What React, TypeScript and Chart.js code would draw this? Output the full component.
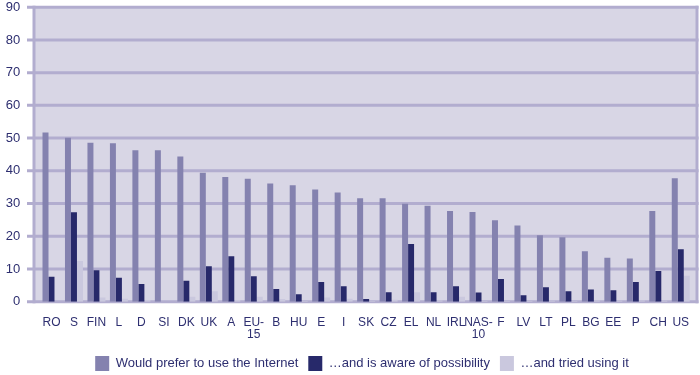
import React, { useEffect, useRef } from "react";
import { Chart, registerables } from "chart.js";

Chart.register(...registerables);

const categories: (string | string[])[] = [
  "RO", "S", "FIN", "L", "D", "SI", "DK", "UK", "A", ["EU-", "15"], "B", "HU", "E", "I",
  "SK", "CZ", "EL", "NL", "IRL", ["NAS-", "10"], "F", "LV", "LT", "PL", "BG", "EE", "P", "CH", "US",
];

const preferInternet = [
  51.7, 50.1, 48.6, 48.4, 46.3, 46.3, 44.4, 39.4, 38.1, 37.6, 36.1, 35.6, 34.3, 33.4,
  31.6, 31.6, 29.9, 29.3, 27.7, 27.4, 24.9, 23.3, 20.3, 19.7, 15.4, 13.4, 13.2, 27.7, 37.7,
];

const awareOfPossibility = [
  7.6, 27.3, 9.6, 7.3, 5.4, 0, 6.4, 10.8, 13.9, 7.8, 3.9, 2.3, 6.0, 4.7,
  0.8, 2.9, 17.6, 2.9, 4.7, 2.8, 6.9, 2.0, 4.4, 3.2, 3.7, 3.5, 6.0, 9.4, 16.0,
];

const triedUsing = [
  0, 12.4, 1.3, 0.9, 0.5, 0, 1.5, 3.2, 0.5, 1.5, 0.8, 0.2, 1.3, 0.9,
  0.2, 0.6, 2.9, 0.4, 1.5, 0.2, 0.2, 0.2, 0.3, 0.2, 0.4, 0.3, 0.4, 0.3, 7.9,
];

const seriesLabels = [
  "Would prefer to use the Internet",
  "\u2026and is aware of possibility",
  "\u2026and tried using it",
];

const yTicks = [0, 10, 20, 30, 40, 50, 60, 70, 80, 90];

const TEXT = "#2e2f70";
const FONT = "'Liberation Sans', Arial, sans-serif";

const framePlugin = {
  id: "frame",
  afterLayout(chart: any) {
    if (chart.legend) {
      chart.legend.left += 32;
    }
  },
  beforeDatasetsDraw(chart: any) {
    const { ctx, chartArea, scales } = chart;
    const y = scales.y;
    const left = chartArea.left - 6.25;
    const right = chartArea.right + 5;
    const top = y.getPixelForValue(90);
    const bottom = y.getPixelForValue(0);
    ctx.save();
    ctx.fillStyle = "#d8d6e5";
    ctx.fillRect(left, top, right - left, bottom - top);
    ctx.strokeStyle = "#b2adcf";
    ctx.lineWidth = 3;
    for (const v of yTicks) {
      const py = y.getPixelForValue(v);
      ctx.beginPath();
      ctx.moveTo(left - 7, py);
      ctx.lineTo(right + 1.5, py);
      ctx.stroke();
    }
    ctx.beginPath();
    ctx.moveTo(left, top - 1.5);
    ctx.lineTo(left, bottom + 1.5);
    ctx.stroke();
    ctx.beginPath();
    ctx.moveTo(right, top - 1.5);
    ctx.lineTo(right, bottom + 1.5);
    ctx.stroke();
    ctx.restore();
  },
};

export default function App() {
  const canvasRef = useRef<HTMLCanvasElement | null>(null);

  useEffect(() => {
    document.body.style.margin = "0";
    const canvas = canvasRef.current;
    if (!canvas) return;
    const chart = new Chart(canvas, {
      type: "bar",
      data: {
        labels: categories as any,
        datasets: [
          { label: seriesLabels[0], data: preferInternet, backgroundColor: "#8482af", borderWidth: 0 },
          { label: seriesLabels[1], data: awareOfPossibility, backgroundColor: "#27296a", borderWidth: 0 },
          { label: seriesLabels[2], data: triedUsing, backgroundColor: "#cac8de", borderWidth: 0 },
        ],
      },
      options: {
        responsive: false,
        animation: false,
        devicePixelRatio: 1,
        layout: { padding: { left: 0, right: 8, top: 7, bottom: -6 } },
        datasets: { bar: { categoryPercentage: 0.8, barPercentage: 1.0 } },
        scales: {
          x: {
            offset: true,
            grid: { display: false, drawTicks: false },
            border: { display: false },
            ticks: {
              color: TEXT,
              font: { family: FONT, size: 12, lineHeight: 1.0 },
              padding: 15,
              maxRotation: 0,
              minRotation: 0,
              autoSkip: false,
            },
            afterFit: (scale: any) => {
              scale.height = 44.3;
              scale.paddingLeft = 0;
              scale.paddingRight = 0;
            },
          },
          y: {
            min: 0,
            max: 90,
            grid: { display: false, drawTicks: false },
            border: { display: false },
            ticks: {
              stepSize: 10,
              color: TEXT,
              font: { family: FONT, size: 13 },
              padding: 20,
            },
            afterFit: (scale: any) => {
              scale.width = 40.25;
              scale.paddingTop = 7.2;
              scale.paddingBottom = 0;
            },
          },
        },
        plugins: {
          legend: {
            position: "bottom",
            labels: {
              boxWidth: 14,
              boxHeight: 15,
              padding: 10,
              color: TEXT,
              font: { family: FONT, size: 13 },
            },
          },
          tooltip: { enabled: false },
        },
      },
      plugins: [framePlugin],
    });
    return () => chart.destroy();
  }, []);

  return (
    <div style={{ position: "absolute", left: 0, top: 0, width: 700, height: 375, background: "#ffffff" }}>
      <canvas ref={canvasRef} width={700} height={375} style={{ width: 700, height: 375 }} />
    </div>
  );
}
